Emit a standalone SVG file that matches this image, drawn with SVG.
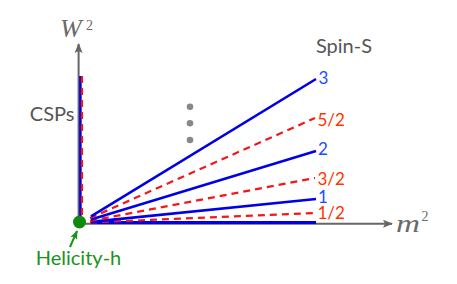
<svg xmlns="http://www.w3.org/2000/svg" width="457" height="284" viewBox="0 0 457 284">
  <style>
    .axis { stroke: #666; stroke-width: 2; fill: none; }
    .spinB { stroke: #0000e6; stroke-width: 2.6; fill: none; }
    .spinR { stroke: #f01818; stroke-width: 2.2; fill: none; stroke-dasharray: 7 5; }
    .lbl { font-family: Lato, "Open Sans", sans-serif; font-size: 20px; fill: #555; }
    .num { font-family: Lato, "Open Sans", sans-serif; font-size: 17px; }
    .nb { fill: #1a4cff; }
    .nr { fill: #ff3300; }
    .math { font-family: "Liberation Serif", serif; font-style: italic; font-weight: normal; fill: #6a6a6a; }
    .sup { font-family: "Liberation Serif", serif; font-weight: normal; fill: #6a6a6a; font-size: 14px; }
    .dot { fill: #888; }
  </style>
  <defs>
    <marker id="arrGray" viewBox="0 0 10 10" refX="9" refY="5" markerUnits="userSpaceOnUse" markerWidth="10" markerHeight="10" orient="auto">
      <path d="M0,1 L10,5 L0,9 L2,5 Z" fill="#666"/>
    </marker>
    <marker id="arrGreen" viewBox="0 0 10 10" refX="9" refY="5" markerUnits="userSpaceOnUse" markerWidth="9" markerHeight="9" orient="auto">
      <path d="M0,1 L10,5 L0,9 L2,5 Z" fill="#1a931a"/>
    </marker>
  </defs>

  <g id="connectors">
    <line id="axis-x" class="axis" x1="80" y1="223.8" x2="392" y2="223.8" marker-end="url(#arrGray)"/>
    <line id="axis-w" class="axis" x1="78.6" y1="224" x2="78.6" y2="44" marker-end="url(#arrGray)"/>
    <line class="spinB" x1="80.4" y1="223" x2="80.4" y2="76"/>
    <line class="spinR" x1="82" y1="76" x2="82" y2="223"/>
    <line class="spinB" x1="91" y1="222.5" x2="316" y2="222.5" style="stroke-width:3"/>
    <line class="spinR" x1="90" y1="222.5" x2="315" y2="213"/>
    <line class="spinB" x1="91" y1="221.9" x2="316" y2="199"/>
    <line class="spinR" x1="90" y1="220.9" x2="315" y2="178"/>
    <line class="spinB" x1="91" y1="219.6" x2="316" y2="151"/>
    <line class="spinR" x1="90" y1="218.1" x2="315" y2="118"/>
    <line class="spinB" x1="91" y1="216.3" x2="316" y2="79"/>
    <line id="helicity-arrow" x1="70" y1="247" x2="77" y2="231" stroke="#1a931a" stroke-width="2" marker-end="url(#arrGreen)"/>
  </g>

  <g id="origin">
    <circle cx="79.5" cy="222" r="6.5" fill="#0f8a0f"/>
  </g>

  <g id="label-W2">
    <text class="math" x="60" y="37.3" font-size="26">W</text>
    <text class="sup" x="86" y="29.5">2</text>
  </g>

  <g id="label-m2">
    <text class="math" x="396" y="231.7" font-size="26" textLength="24" lengthAdjust="spacingAndGlyphs">m</text>
    <text class="sup" x="421.5" y="220.5">2</text>
  </g>

  <g id="label-CSPs">
    <text class="lbl" x="74.5" y="121.3" text-anchor="end">CSPs</text>
  </g>

  <g id="label-spinS">
    <text class="lbl" x="344" y="53.3" text-anchor="middle" font-size="19.5">Spin-S</text>
  </g>

  <g id="label-helicity">
    <text class="lbl" x="78.5" y="265" text-anchor="middle" style="fill:#1a931a">Helicity-h</text>
  </g>

  <g id="ellipsis">
    <circle class="dot" cx="190" cy="106.7" r="3.3"/>
    <circle class="dot" cx="190" cy="123.3" r="3.3"/>
    <circle class="dot" cx="190" cy="140" r="3.3"/>
  </g>

  <g id="spin-labels" class="num">
    <text class="nb" x="318.5" y="84">3</text>
    <text class="nr" x="317.5" y="125.5">5/2</text>
    <text class="nb" x="318" y="155">2</text>
    <text class="nr" x="317.5" y="184.5">3/2</text>
    <text class="nb" x="318" y="203">1</text>
    <text class="nr" x="317.5" y="219.3">1/2</text>
  </g>
</svg>
